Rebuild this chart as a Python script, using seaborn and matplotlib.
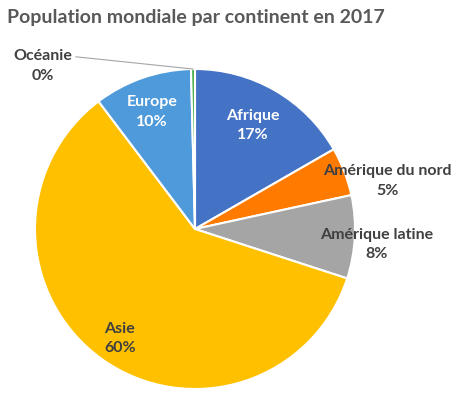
import numpy as np
import matplotlib
matplotlib.use("Agg")
import matplotlib.pyplot as plt
import seaborn as sns

# Data (share of world population in %, 2017), order: clockwise from top
continents = ["Afrique", "Amérique du nord", "Amérique latine", "Asie", "Europe", "Océanie"]
shares = [16.7, 4.9, 8.4, 59.7, 9.9, 0.4]
colors = ["#4472C4", "#FF7B00", "#A5A5A5", "#FFC000", "#4E9ADB", "#4CAF50"]
title = "Population mondiale par continent en 2017"

sns.set_theme(style="white")
plt.rcParams["font.family"] = ["Lato", "DejaVu Sans"]

W, H = 468, 394
fig = plt.figure(figsize=(W / 100, H / 100), dpi=100)
cx, cy, r = 195, 229, 160
ax = fig.add_axes([(cx - r) / W, (H - cy - r) / H, 2 * r / W, 2 * r / H])

wedges, _ = ax.pie(shares, colors=colors, startangle=90, counterclock=False,
                   wedgeprops=dict(edgecolor="white", linewidth=1.5), radius=1)
ax.set_xlim(-1, 1)
ax.set_ylim(-1, 1)
ax.set_aspect("auto")
ax.axis("off")

total = sum(shares)
pcts = [p / total * 100 for p in shares]
# label placement: (distance factor, angle nudge deg, color)
place = {
    "Afrique": (0.74, 1, "white"),
    "Amérique du nord": (1.24, -7, "#404040"),
    "Amérique latine": (1.14, -2, "#404040"),
    "Asie": (0.83, 1, "#404040"),
    "Europe": (0.78, 1, "white"),
}
fs = 11.5
for w, name, pc in zip(wedges, continents, pcts):
    mid = np.deg2rad((w.theta1 + w.theta2) / 2)
    if name in place:
        d, nudge, c = place[name]
        a = mid + np.deg2rad(nudge)
        ax.text(d * np.cos(a), d * np.sin(a), f"{name}\n{pc:.0f}%", ha="center", va="center",
                fontsize=fs, fontweight="bold", color=c, linespacing=1.5)
    else:
        x0, y0 = np.cos(mid), np.sin(mid)
        tx, ty = (43 - cx) / r, (cy - 66) / r
        ax.annotate(f"{name}\n{pc:.0f}%", xy=(x0, y0), xytext=(tx, ty), ha="center", va="center",
                    fontsize=fs, fontweight="bold", color="#404040", linespacing=1.5,
                    arrowprops=dict(arrowstyle="-", color="#A6A6A6", lw=0.8,
                                    shrinkA=0, shrinkB=0, relpos=(1.03, 0.78)),
                    annotation_clip=False)

fig.text(7 / W, 1 - 17 / H, title, ha="left", va="center", fontsize=14, fontweight="bold",
         color="#595959")

fig.savefig("out.png", dpi=100)
